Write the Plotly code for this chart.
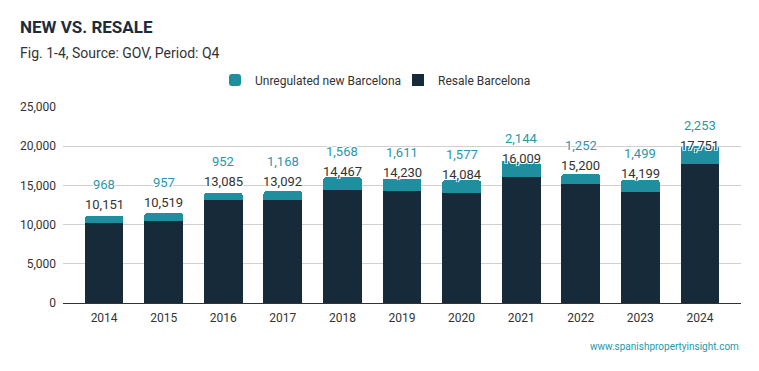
import plotly.graph_objects as go

years = ["2014", "2015", "2016", "2017", "2018", "2019", "2020", "2021", "2022", "2023", "2024"]
resale = [10151, 10519, 13085, 13092, 14467, 14230, 14084, 16009, 15200, 14199, 17751]
new_unreg = [968, 957, 952, 1168, 1568, 1611, 1577, 2144, 1252, 1499, 2253]

TEAL = "#1f8fa0"
NAVY = "#172a3a"
FONT = "Roboto"

# the page body has an 8px margin; figure is sized/margined so the plot lands in place
W, H = 751, 363
ML, MR, MT, MB = 55, 18, 99, 68
PH = H - MT - MB  # plot height in px
PW = W - ML - MR

def py(page_y):
    # page y (px) -> paper y
    return (H - MB + 8 - page_y) / PH

def px(page_x):
    return (page_x - 8 - ML) / PW

HALO = "1px 1px 0 #fff, -1px -1px 0 #fff, 1px -1px 0 #fff, -1px 1px 0 #fff"

fig = go.Figure()
fig.add_trace(go.Bar(x=years, y=resale, name="Resale Barcelona", marker_color=NAVY,
                     marker_line_width=0, hoverinfo="skip"))
fig.add_trace(go.Bar(x=years, y=new_unreg, name="Unregulated new Barcelona", marker_color=TEAL,
                     marker_line_width=0, marker_cornerradius=3, hoverinfo="skip"))

annotations = []
for i, (r, n) in enumerate(zip(resale, new_unreg)):
    annotations.append(dict(x=i, y=r, text=f"{r:,}", showarrow=False, yanchor="bottom",
                            yshift=9, font=dict(family=FONT, size=13, color="#333333", shadow=HALO)))
    annotations.append(dict(x=i, y=r, text=f"{n:,}", showarrow=False, yanchor="bottom",
                            yshift=29, font=dict(family=FONT, size=13, color="#2a97a8", shadow=HALO)))

annotations.append(dict(xref="paper", yref="paper", x=px(741), xanchor="right", y=py(346), yanchor="middle",
                        text="www.spanishpropertyinsight.com", showarrow=False,
                        font=dict(family=FONT, size=10, color="#2a97a8")))
annotations.append(dict(xref="paper", yref="paper", x=px(18), xanchor="left", y=py(27), yanchor="middle",
                        text="<b>NEW VS. RESALE</b>", showarrow=False,
                        font=dict(family=FONT, size=17, color="#1d2b3a")))
annotations.append(dict(xref="paper", yref="paper", x=px(18), xanchor="left", y=py(53), yanchor="middle",
                        text="Fig. 1-4, Source: GOV, Period: Q4", showarrow=False,
                        font=dict(family=FONT, size=14, color="#333333")))

fig.update_layout(
    barmode="stack",
    bargap=0.35,
    width=W, height=H,
    margin=dict(l=ML, r=MR, t=MT, b=MB, autoexpand=False),
    paper_bgcolor="white", plot_bgcolor="white",
    font=dict(family=FONT, size=12, color="#333333"),
    showlegend=True,
    legend=dict(orientation="h", x=px(215), xanchor="left", y=py(80), yanchor="middle",
                traceorder="reversed", font=dict(family=FONT, size=12, color="#333333"),
                entrywidth=138, itemclick=False),
    annotations=annotations,
    xaxis=dict(range=[-0.69, 10.69], showgrid=False, showline=True, linecolor="#333333", linewidth=1,
               ticks="", ticklabelstandoff=4, tickfont=dict(family=FONT, size=12, color="#333333"),
               fixedrange=True),
    yaxis=dict(range=[0, 25000], tickvals=[0, 5000, 10000, 15000, 20000, 25000], tickformat=",",
               showgrid=True, gridcolor="#d0d0d0", gridwidth=1, zeroline=False, showline=False,
               ticks="", ticklabelstandoff=6, tickfont=dict(family=FONT, size=12, color="#333333"),
               fixedrange=True),
)
fig.write_html("out.html")
